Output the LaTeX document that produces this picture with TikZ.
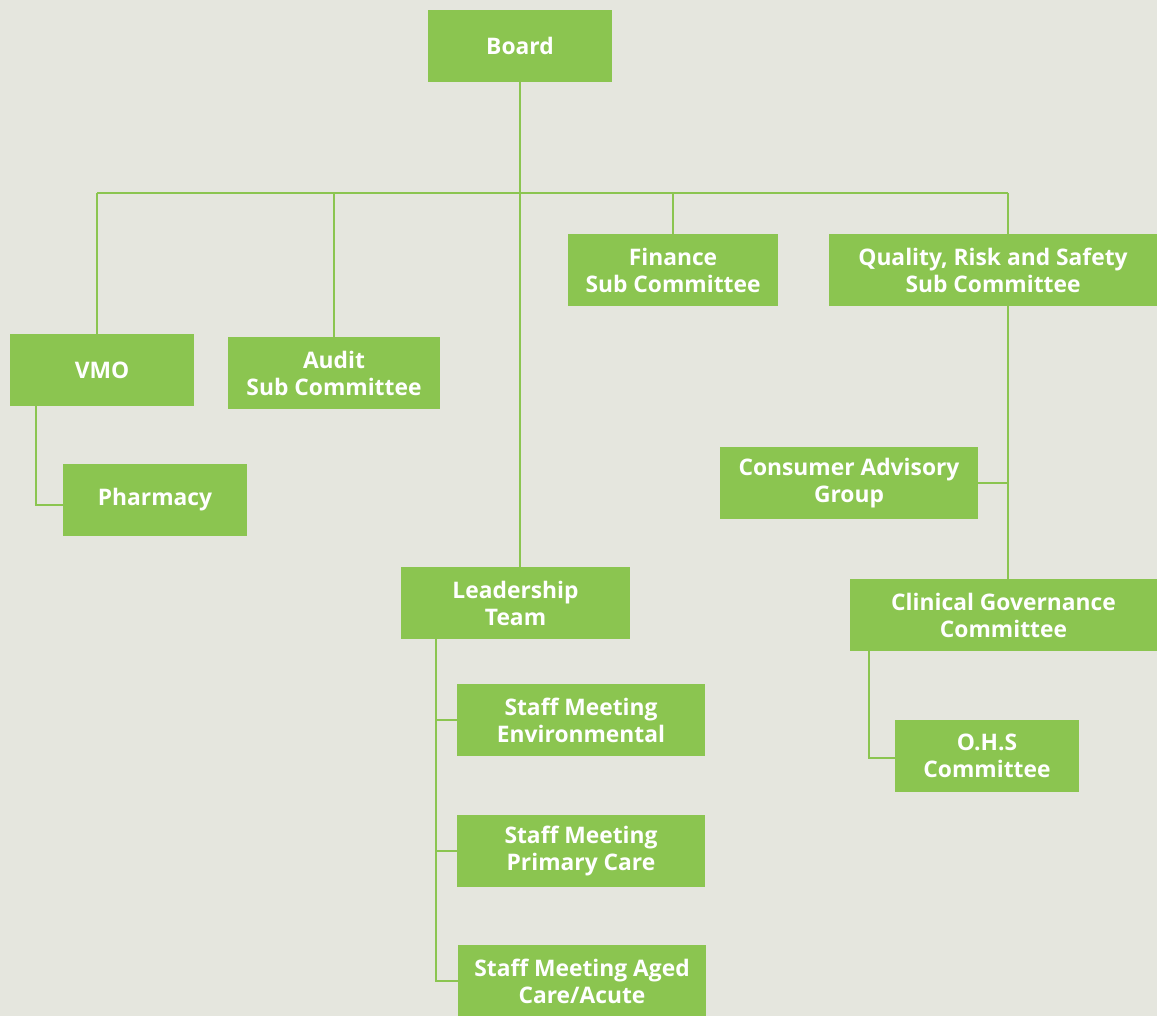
\documentclass[tikz,border=0pt]{standalone}
\usepackage{fontspec}
\setmainfont{Open Sans}
\definecolor{bg}{HTML}{E5E6DE}
\definecolor{leaf}{HTML}{8BC550}
\begin{document}
\begin{tikzpicture}[x=1pt,y=-1pt,
  box/.style={fill=leaf,text=white,align=center,inner sep=0pt,minimum height=72pt,
    font=\fontsize{22.8}{27}\selectfont\bfseries},
  link/.style={draw=leaf,line width=2.6pt}]
\fill[bg] (0,0) rectangle (1157,1016);
\useasboundingbox (0,0) rectangle (1157,1016);
\node[box,minimum width=184pt] (board) at (520,46) {Board};
\node[box,minimum width=184pt] (vmo) at (102,370) {VMO};
\node[box,minimum width=212pt] (audit) at (334,373) {Audit\\Sub Committee};
\node[box,minimum width=210pt] (fin) at (673,270) {Finance\\Sub Committee};
\node[box,minimum width=328pt] (qual) at (993,270) {Quality, Risk and Safety\\Sub Committee};
\node[box,minimum width=184pt] (pharm) at (155,500) {Pharmacy};
\node[box,minimum width=258pt] (cag) at (849,483) {Consumer Advisory\\Group};
\node[box,minimum width=307pt] (clin) at (1003.5,615) {Clinical Governance\\Committee};
\node[box,minimum width=184pt] (ohs) at (987,756) {O.H.S\\Committee};
\node[box,minimum width=229pt] (lead) at (515.5,603) {Leadership\\Team};
\node[box,minimum width=248pt] (env) at (581,720) {Staff Meeting\\Environmental};
\node[box,minimum width=248pt] (prim) at (581,851) {Staff Meeting\\Primary Care};
\node[box,minimum width=248pt] (aged) at (582,981) {Staff Meeting Aged\\Care/Acute};
\coordinate (busL) at (97,193);
\coordinate (busR) at (1008,193);
\coordinate (qx) at (1008,0);
\coordinate (vx) at (36,0);
\coordinate (cx) at (869,0);
\coordinate (lx) at (436,0);
\coordinate (pj) at (63,505);
\coordinate (oj) at (895,758);
\draw[link] (busL) -- (busR);
\draw[link] (board.south) -- (board.south |- lead.north);
\draw[link] (busL) -- (busL |- vmo.north);
\draw[link] (audit.north |- busL) -- (audit.north);
\draw[link] (fin.north |- busL) -- (fin.north);
\draw[link] (busR) -- (busR |- qual.north);
\draw[link] (vx |- vmo.south) |- (pj);
\draw[link] (qx |- qual.south) -- (qx |- clin.north);
\draw[link] (cag.east) -- (cag.east -| qx);
\draw[link] (cx |- clin.south) |- (oj);
\draw[link] (lx |- lead.south) |- (aged.west);
\draw[link] (env.west) -- (env.west -| lx);
\draw[link] (prim.west) -- (prim.west -| lx);
\end{tikzpicture}
\end{document}
